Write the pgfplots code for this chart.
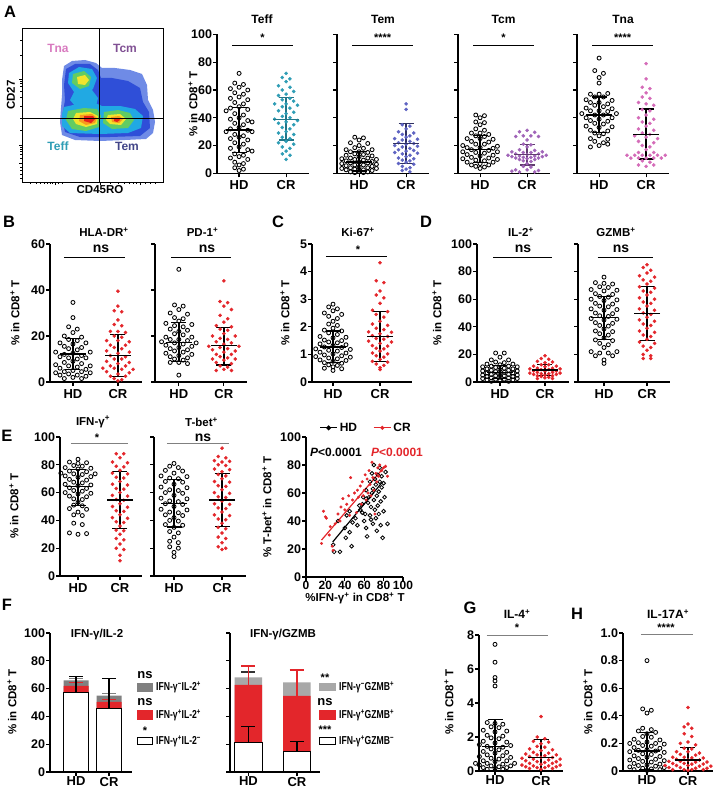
\documentclass[border=0pt]{standalone}
\usepackage{pgfplots}
\pgfplotsset{compat=1.18}
\usepackage{fontspec}
\setmainfont{Liberation Sans}
\definecolor{cteal}{HTML}{2E9DB5}
\definecolor{cperi}{HTML}{5E63C2}
\definecolor{cpurp}{HTML}{A064B8}
\definecolor{cpink}{HTML}{D46BB8}
\definecolor{cred}{HTML}{E3262B}
\definecolor{cgrayA}{HTML}{808080}
\definecolor{cgrayB}{HTML}{A8A8A8}
\definecolor{fl1}{HTML}{6F8BE6}
\definecolor{fl2}{HTML}{2F4FD8}
\definecolor{fl3}{HTML}{21A9E3}
\definecolor{fl4}{HTML}{62CC62}
\definecolor{fl5}{HTML}{F2E42C}
\definecolor{fl6}{HTML}{F79A1E}
\definecolor{fl7}{HTML}{E5221B}
\newcommand{\ft}[1]{\fontsize{#1}{#1}\selectfont}
\newcommand{\cde}{\% in CD8\textsuperscript{+} T}
\newcommand{\nar}[1]{\scalebox{0.75}[1]{#1}}
\pgfplotsset{
 prism/.style={scale only axis, clip=false, axis x line*=bottom, axis y line*=left,
   axis line style={line width=1.2pt,-}, every tick/.style={black,line width=1.2pt},
   tick align=outside, major tick length=4pt, enlargelimits=false,
   xtick={1,2}, xticklabels={HD,CR}, ymin=0,
   yticklabel style={font=\ft{12.5}, xshift=2.5pt}, xticklabel style={font=\ft{13}},
   /pgf/number format/assume math mode=true, anchor=south west},
 low/.style={xticklabel style={yshift=2.5pt}},
 hd/.style={only marks, mark=o, mark size=2pt, black, mark options={line width=0.85pt}, x filter/.expression={1+#1*x}},
 cr/.style 2 args={only marks, mark=*, mark size=1.6pt, color=#1, x filter/.expression={2+#2*x}},
 ebar/.style={color=#1, only marks, mark=-, mark size=13pt, mark options={line width=1.3pt},
   error bars/y dir=both, error bars/y explicit, error bars/error bar style={line width=1.3pt, color=#1},
   error bars/error mark options={rotate=90, mark size=7.5pt, line width=1.3pt, color=#1}},
 ebar/.default=black,
 sig/.style={line width=0.9pt, color=#1, mark=none},
 sig/.default=black,
 bbar/.style n args={4}{ybar, bar shift=0pt, bar width=#1, fill=#2, draw=#4,
   error bars/y dir=plus, error bars/y explicit,
   error bars/error bar style={line width=1.2pt, color=#3},
   error bars/error mark options={rotate=90, mark size=7pt, line width=1.2pt, color=#3}},
}
\begin{document}
\bfseries
\begin{tikzpicture}[x=1pt,y=1pt]
\useasboundingbox (0,0) rectangle (718,-789);
% ================= A : flow plot
\begin{axis}[scale only axis, at={(22pt,-182pt)}, anchor=south west, width=141pt, height=154pt,
  xmin=22,xmax=163,ymin=-182,ymax=-28, axis line style={line width=0.9pt},
  tick align=outside, xtick pos=bottom, ytick pos=left,
  xtick={55,100,140}, minor xtick={30,36,40,44,47,50,52,58,62,110,118,124,129,133,136,145,150,155},
  ytick={-163,-145,-79}, minor ytick={-178,-174,-170,-167,-158,-154,-151,-149,-147,-130,-118,-106,-97,-91,-86,-83,-81,-55,-40},
  xticklabels={}, yticklabels={}, major tick length=3pt, minor tick length=2pt,
  every tick/.style={black,line width=0.6pt}]
\addplot[fill=fl1, draw=none] coordinates {(64,-66)(72,-61)(85,-60)(96,-63)(102,-68)(115,-68)(130,-70)(142,-74)(147,-85)(148,-100)(153,-110)(155,-122)(153,-133)(146,-139)(125,-140)(100,-141)(75,-140)(62,-135)(60,-122)(61,-108)(62,-95)(62,-80)} -- cycle;
\addplot[fill=fl2, draw=none] coordinates {(66,-69)(75,-64)(90,-64)(98,-70)(101,-78)(112,-78)(128,-81)(140,-88)(143,-102)(149,-112)(150,-128)(140,-136)(110,-137)(80,-137)(65,-132)(62,-118)(65,-100)(64,-85)} -- cycle;
\addplot[fill=fl3, draw=none] coordinates {(69,-73)(79,-67)(92,-69)(97,-78)(93,-89)(84,-95)(74,-92)(68,-83)} -- cycle;
\addplot[fill=fl3, draw=none] coordinates {(74,-92)(92,-90)(98,-98)(96,-106)(75,-106)(70,-100)} -- cycle;
\addplot[fill=fl3, draw=none] coordinates {(64,-107)(78,-104)(95,-103)(102,-106)(120,-106)(135,-109)(143,-116)(141,-128)(128,-133)(100,-134)(70,-133)(62,-126)(62,-114)} -- cycle;
\addplot[fill=fl4, draw=none] coordinates {(73,-74)(84,-71)(91,-77)(89,-86)(80,-89)(72,-83)} -- cycle;
\addplot[fill=fl4, draw=none] coordinates {(68,-111)(84,-108)(97,-109)(101,-116)(99,-127)(86,-131)(72,-129)(66,-120)} -- cycle;
\addplot[fill=fl4, draw=none] coordinates {(104,-112)(118,-110)(130,-113)(134,-120)(128,-128)(112,-129)(103,-123)} -- cycle;
\addplot[fill=fl5, draw=none] coordinates {(77,-77)(85,-75)(89,-80)(85,-85)(78,-84)} -- cycle;
\addplot[fill=fl5, draw=none] coordinates {(76,-113)(90,-112)(98,-116)(97,-124)(86,-127)(76,-124)(73,-119)} -- cycle;
\addplot[fill=fl5, draw=none] coordinates {(108,-115)(120,-114)(126,-119)(121,-125)(110,-124)(106,-120)} -- cycle;
\addplot[fill=fl6, draw=none] coordinates {(80,-115)(92,-114)(97,-118)(95,-123)(86,-125)(79,-121)} -- cycle;
\addplot[fill=fl6, draw=none] coordinates {(111,-117)(119,-116)(123,-119)(119,-123)(112,-122)} -- cycle;
\addplot[fill=fl7, draw=none] coordinates {(84,-116)(93,-116)(95,-119)(91,-123)(84,-121)} -- cycle;
\addplot[fill=fl7, draw=none] coordinates {(114,-118)(119,-118)(120,-120)(117,-122)(114,-121)} -- cycle;
\addplot[black, line width=1pt] coordinates {(99,-28)(99,-182)};
\addplot[black, line width=1pt] coordinates {(22,-118)(163,-118)};
\end{axis}
% ================= A : Teff
\begin{axis}[prism, at={(217pt,-173.3pt)}, width=92pt, height=138.8pt, xmin=0.53, xmax=2.487, ymax=100, ytick={0,20,...,100}]
\addplot[hd=0.092] coordinates {(0,72)(-1,65)(1,64)(0,62)(-2,61)(2,60)(-1,58)(1,57)(0,55)(-2,54)(2,53)(-1,51)(1,50)(0,48)(-2,47)(2,46)(-3,45)(-1,43)(1,42)(0,40)(-2,39)(2,38)(3,37)(-1,36)(1,35)(0,33)(-2,32)(2,31)(-3,30)(3,30)(-1,28)(1,27)(0,26)(-2,25)(2,24)(-1,22)(1,21)(0,19)(-2,18)(2,17)(3,16)(-1,14)(1,13)(0,12)(-2,11)(2,10)(-1,8)(1,7)(0,6)(-1,4)(1,3)(0,2)};
\addplot[cr={cteal}{0.081}] coordinates {(0,72)(-1,69)(1,68)(0,66)(-2,63)(1,62)(-1,60)(2,59)(0,57)(-2,56)(1,54)(-1,53)(2,52)(0,50)(-3,50)(3,49)(-1,48)(1,47)(-2,45)(2,44)(0,43)(-1,41)(1,40)(-3,39)(3,38)(0,37)(-2,36)(2,35)(-1,33)(1,32)(0,30)(-2,29)(2,28)(-1,26)(1,25)(0,23)(-2,22)(2,21)(-1,19)(1,18)(0,16)(-1,14)(1,13)(0,10)};
\addplot[ebar] coordinates {(1,31.2) += (0,16.3) -= (0,16)};
\addplot[ebar=cteal!75!black] coordinates {(2,39) += (0,15.5) -= (0,15)};
\addplot[sig] coordinates {(0.85,92)(2.15,92)};
\end{axis}
% ================= A : Tem
\begin{axis}[prism, at={(337pt,-173.3pt)}, width=92pt, height=138.8pt, xmin=0.53, xmax=2.487, ymax=100, ytick={0,20,...,100}, yticklabels={}]
\addplot[hd=0.092] coordinates {(-1,26)(1,25.5)(0,24)(-2,22)(2,21.5)(0,20)(-1,18.5)(1,18)(-3,17)(3,17)(-2,15.5)(0,15.5)(2,15)(-1,14)(1,13.5)(-3,13)(3,12.5)(0,12)(-2,11)(2,11)(-4,10.5)(4,10)(-1,10)(1,9.5)(-3,9)(3,8.5)(0,8)(-2,7.5)(2,7.5)(-4,7)(4,6.5)(-1,6)(1,6)(-3,5.5)(3,5)(0,4.5)(-2,4)(2,4)(-4,3.5)(4,3.5)(-1,3)(1,2.5)(-3,2.5)(3,2)(0,1.5)(-2,1)(2,1)(-1,0.5)(1,0.5)};
\addplot[cr={cperi}{0.081}] coordinates {(0,50)(0,46)(-1,35)(1,34)(0,32)(-2,30)(2,29)(-1,28)(1,27)(0,26)(-3,25)(3,24.5)(-1,24)(1,23)(-2,22)(2,21.5)(0,21)(-3,20)(3,19.5)(-1,19)(1,18)(-2,17)(2,16.5)(0,16)(-3,15)(3,14.5)(-1,14)(1,13)(0,12)(-2,11)(2,10.5)(-1,9.5)(1,9)(0,8)(-2,7)(2,6.5)(-1,5)(1,4)(0,3)(-1,2)(1,1)};
\addplot[ebar] coordinates {(1,8.2) += (0,7.6) -= (0,6.5)};
\addplot[ebar=cperi!50!black] coordinates {(2,21.6) += (0,14.4) -= (0,14.6)};
\addplot[sig] coordinates {(0.85,92)(2.15,92)};
\end{axis}
% ================= A : Tcm
\begin{axis}[prism, at={(458pt,-173.3pt)}, width=92pt, height=138.8pt, xmin=0.53, xmax=2.487, ymax=100, ytick={0,20,...,100}, yticklabels={}]
\addplot[hd=0.092] coordinates {(-1,42)(1,41.5)(0,40)(-1,37)(1,36.5)(0,35)(-1,32)(1,31)(-2,29)(0,29)(2,28)(-1,27)(1,26.5)(-3,25)(0,25)(3,24.5)(-2,23)(2,22.5)(-1,21)(1,21)(-4,20)(4,19.5)(-3,18.5)(0,18.5)(3,18)(-2,17)(2,16.5)(-4,15.5)(4,15.5)(-1,15)(1,14.5)(-3,13.5)(3,13)(0,12.5)(-2,11.5)(2,11)(-4,10.5)(4,10)(-1,9.5)(1,9)(-3,8)(3,8)(0,7)(-2,6)(2,6)(-1,5)(1,4.5)(0,3.5)};
\addplot[cr={cpurp}{0.081}] coordinates {(0,31)(-2,30)(2,29.5)(-1,27)(1,27)(3,26.5)(-3,26.5)(0,24)(-1,21)(1,20.5)(0,19)(-2,17)(2,16.5)(-4,15.5)(4,15.5)(-1,15)(1,15)(-3,14)(3,14)(0,13.5)(-5,13)(5,13)(-2,12.5)(2,12.5)(-4,12)(4,12)(-1,11.5)(1,11.5)(-3,11)(3,11)(0,10.5)(-2,10)(2,10)(-1,9)(1,8.5)(0,7)(-1,5)(1,4.5)(-3,2.5)(0,2.5)(3,2)(-2,1)(2,1)(-4,1.5)};
\addplot[ebar] coordinates {(1,17) += (0,10) -= (0,9)};
\addplot[ebar=cpurp!60!black] coordinates {(2,13.5) += (0,7) -= (0,7.5)};
\addplot[sig] coordinates {(0.85,92)(2.15,92)};
\end{axis}
% ================= A : Tna
\begin{axis}[prism, at={(577pt,-173.3pt)}, width=92pt, height=138.8pt, xmin=0.53, xmax=2.487, ymax=100, ytick={0,20,...,100}, yticklabels={}]
\addplot[hd=0.092] coordinates {(0,83)(-1,74)(1,72)(0,69)(0,65)(-2,57)(0,57)(2,57.5)(-1,55)(1,55)(-3,53)(3,52.5)(-2,51)(0,51)(2,50)(-1,49)(1,48)(-3,47)(3,46.5)(-2,45)(0,45)(2,44.5)(-4,43)(4,43)(-1,42)(1,42)(-3,40)(3,40)(0,39)(-2,38)(2,37.5)(-1,36)(1,35.5)(-3,34)(3,33.5)(0,33)(-2,31)(2,30.5)(-1,29)(1,28.5)(0,27)(-2,25)(2,24.5)(-1,23)(1,22)(0,20)(-2,19)(2,21)};
\addplot[cr={cpink}{0.081}] coordinates {(0,79)(0,68)(-1,62)(1,61)(0,58)(-1,55)(1,54)(-2,51)(0,50)(2,49)(-1,46)(1,45)(0,42)(-2,40)(2,39)(-1,37)(1,36)(0,34)(-2,32)(2,31)(-1,29)(1,28)(-3,27)(0,26)(3,25)(-2,23)(2,22)(-1,20)(1,19)(0,17)(-2,15)(2,15)(-5,13)(-3,13)(-1,13)(1,13)(3,13)(5,13)(-4,11)(-2,11)(0,11)(2,11)(4,11)(-1,9)(1,8)(-2,6)(0,5)(2,6)};
\addplot[ebar] coordinates {(1,42) += (0,13) -= (0,12.5)};
\addplot[ebar] coordinates {(2,28) += (0,18.3) -= (0,17.8)};
\addplot[sig] coordinates {(0.85,92)(2.15,92)};
\end{axis}
% ================= B : HLA-DR
\begin{axis}[prism, at={(50pt,-382pt)}, width=92pt, height=138pt, xmin=0.49, xmax=2.534, ymax=60, ytick={0,20,40,60}]
\addplot[hd=0.096] coordinates {(0,34.6)(0,28)(-1,24)(1,23)(0,21.5)(-2,20)(2,19.5)(-1,18.5)(1,18)(-3,17)(3,17)(0,16.5)(-2,15.5)(2,15)(-1,14.5)(1,14)(-4,13)(4,13)(0,12.5)(-2,12)(2,11.5)(-3,11)(3,10.5)(-1,10.5)(1,10)(0,9)(-2,8.5)(2,8)(-4,7.5)(4,7)(-1,7)(1,6.5)(-3,6)(3,5.5)(0,5)(-2,4.5)(2,4.5)(-4,4)(4,4)(-1,3.5)(1,3)(-3,3)(3,2.5)(0,2)(-2,1.5)(2,1.5)};
\addplot[cr={cred}{0.084}] coordinates {(0,39.5)(0,33)(-1,31)(1,30.5)(0,27)(-1,25)(1,24.5)(-2,22)(0,22)(2,21.5)(-1,20)(1,19.5)(-3,18)(0,18)(3,17.5)(-2,16)(2,16)(-1,15)(1,14.5)(-3,13.5)(3,13)(0,12.5)(-2,11.5)(2,11)(-1,10)(1,10)(-3,9)(3,8.5)(0,8)(-2,7)(2,7)(-4,6)(-1,6)(1,5.5)(4,5.5)(-3,4.5)(3,4)(0,3.5)(-2,2.5)(2,2.5)(-1,1.5)(1,1)(0,0.5)};
\addplot[ebar] coordinates {(1,12.2) += (0,6.8) -= (0,6.8)};
\addplot[ebar] coordinates {(2,11.5) += (0,9.2) -= (0,9)};
\addplot[sig] coordinates {(0.8,54.3)(2.157,54.3)};
\end{axis}
% ================= B : PD-1
\begin{axis}[prism, at={(155pt,-382pt)}, width=92pt, height=138pt, xmin=0.47, xmax=2.514, ymax=60, ytick={0,20,40,60}, yticklabels={}]
\addplot[hd=0.096] coordinates {(0,49)(-1,33.5)(1,33)(0,31.5)(-2,30)(2,29.5)(-1,28)(1,27.5)(0,26.5)(-3,25.5)(3,25)(-1,24.5)(1,24)(-2,23)(2,22.5)(0,22)(-1,21)(1,20.5)(-3,19.5)(3,19.5)(-2,18.5)(0,18.5)(2,18)(-4,17.5)(4,17)(-1,17)(1,16.5)(-3,16)(3,15.5)(0,15)(-2,14.5)(2,14)(-1,13.5)(1,13)(-3,12.5)(3,12)(0,11.5)(-2,11)(2,10.5)(-1,10)(1,9.5)(-2,8.5)(0,8.5)(2,8)(0,3)};
\addplot[cr={cred}{0.084}] coordinates {(0,44)(-1,35)(1,34.5)(0,33)(2,31.5)(-1,29)(1,27.5)(0,26)(-2,24.5)(2,24)(-1,23)(1,22.5)(0,21)(-3,20)(3,20)(-1,19)(1,18.5)(-2,17.5)(2,17)(0,16.5)(-4,15.5)(4,15.5)(-1,15)(1,14.5)(-3,14)(3,13.5)(0,13)(-2,12)(2,12)(-1,11)(1,10.5)(-3,10)(3,10)(0,9.5)(-2,8.5)(2,8)(-1,7)(1,6.5)(0,5.5)(-2,5)(2,5)};
\addplot[ebar] coordinates {(1,17.2) += (0,8.6) -= (0,8.2)};
\addplot[ebar] coordinates {(2,15.8) += (0,8) -= (0,8.4)};
\addplot[sig] coordinates {(0.826,54.3)(2.16,54.3)};
\end{axis}
% ================= C : Ki-67
\begin{axis}[prism, at={(312pt,-382pt)}, width=100pt, height=138pt, xmin=0.553, xmax=2.68, ymax=5, ytick={0,1,...,5}]
\addplot[hd=0.092] coordinates {(0,2.82)(-1,2.72)(1,2.65)(0,2.58)(-2,2.5)(2,2.45)(-1,2.38)(1,2.3)(0,2.2)(-1,2.1)(1,2.05)(0,1.95)(-2,1.88)(2,1.85)(-1,1.78)(1,1.72)(-3,1.65)(3,1.62)(0,1.6)(-2,1.52)(2,1.5)(-1,1.45)(1,1.42)(-3,1.38)(3,1.35)(0,1.32)(-2,1.27)(2,1.25)(-4,1.2)(4,1.18)(-1,1.15)(1,1.12)(-3,1.08)(3,1.05)(0,1.02)(-2,0.98)(2,0.95)(-4,0.92)(4,0.9)(-1,0.87)(1,0.84)(-3,0.8)(3,0.78)(0,0.75)(-2,0.7)(2,0.68)(-1,0.62)(1,0.6)(0,0.55)(-2,0.5)(2,0.48)(0,0.42)};
\addplot[cr={cred}{0.081}] coordinates {(0,4.32)(-1,3.67)(1,3.6)(0,3.3)(-1,3.15)(1,3.05)(0,2.85)(-2,2.6)(2,2.55)(-1,2.45)(1,2.35)(0,2.2)(-2,2.1)(2,2.05)(-1,1.95)(1,1.9)(-3,1.82)(3,1.8)(0,1.75)(-2,1.68)(2,1.65)(-1,1.58)(1,1.55)(-3,1.48)(3,1.45)(0,1.4)(-2,1.32)(2,1.3)(-1,1.22)(1,1.2)(0,1.12)(-2,1.05)(2,1.02)(-1,0.95)(1,0.9)(0,0.82)(-2,0.75)(2,0.72)(-1,0.65)(1,0.6)(0,0.52)(0,0.45)};
\addplot[ebar] coordinates {(1,1.27) += (0,0.58) -= (0,0.57)};
\addplot[ebar] coordinates {(2,1.65) += (0,0.9) -= (0,0.9)};
\addplot[sig] coordinates {(0.85,4.55)(2.15,4.55)};
\end{axis}
% ================= D : IL-2
\begin{axis}[prism, at={(477pt,-382pt)}, width=92pt, height=138pt, xmin=0.49, xmax=2.534, ymax=100, ytick={0,20,...,100}]
\addplot[hd=0.096] coordinates {(-1,21)(1,21)(0,18)(-2,16)(2,16)(-1,14.5)(1,14)(-3,13)(3,13)(0,12.5)(-2,11.5)(2,11.5)(-4,11)(4,11)(-1,10.5)(1,10)(-3,9.5)(3,9.5)(0,9)(-2,8.5)(2,8.5)(-4,8)(4,8)(-1,7.5)(1,7)(-3,6.5)(3,6.5)(0,6)(-2,5.5)(2,5.5)(-4,5)(4,5)(-1,4.5)(1,4.5)(-3,4)(3,4)(0,3.5)(-2,3)(2,3)(-4,2.5)(4,2.5)(-1,2)(1,2)(-3,1.5)(3,1.5)(0,1)(-2,0.5)(2,0.5)};
\addplot[cr={cred}{0.084}] coordinates {(0,19)(-1,17)(1,16.5)(-2,15)(2,14.5)(0,14)(-1,12.5)(1,12.5)(-3,11.5)(3,11.5)(0,11)(-2,10)(2,10)(-4,9.5)(4,9.5)(-1,9)(1,9)(-3,8)(3,8)(0,8)(-2,7)(2,7)(-4,6.5)(4,6.5)(-1,6)(1,6)(-3,5.5)(3,5.5)(0,5)(-2,4.5)(2,4.5)(-1,4)(1,3.5)(0,3)(-2,2.5)(2,2.5)};
\addplot[ebar] coordinates {(1,7) += (0,5) -= (0,4.5)};
\addplot[ebar] coordinates {(2,8.7) += (0,3.8) -= (0,3.8)};
\addplot[sig] coordinates {(0.85,90.6)(2.15,90.6)};
\end{axis}
% ================= D : GZMB
\begin{axis}[prism, at={(578pt,-382pt)}, width=92pt, height=138pt, xmin=0.395, xmax=2.535, ymax=100, ytick={0,20,...,100}, yticklabels={}]
\addplot[hd=0.1] coordinates {(0,76)(-2,72)(0,71.5)(2,71)(-1,69)(1,68.5)(-3,67)(3,66.5)(0,66)(-2,64)(2,63.5)(-1,62)(1,61.5)(-3,60)(3,59.5)(0,59)(-2,57)(2,56.5)(-1,55)(1,54.5)(-3,53)(3,52.5)(0,52)(-2,50)(2,49.5)(-1,48)(1,47.5)(-3,46)(3,45.5)(0,45)(-2,43)(2,42.5)(-1,41)(1,40.5)(0,38.5)(-2,37)(2,36.5)(-1,35)(1,34)(0,32)(-2,30.5)(2,30)(-1,28)(1,27)(0,25)(-3,22)(-1,21)(1,21)(3,22)(-2,19)(2,19)(0,16)(0,13.5)};
\addplot[cr={cred}{0.088}] coordinates {(0,85)(-1,83)(1,81)(0,79)(-2,77)(2,76)(-1,74)(1,73)(0,71)(-2,69)(2,68)(-1,66)(1,65)(0,63)(-2,61)(2,60)(-1,58)(1,57)(0,55)(-2,53)(2,52)(-1,50)(1,49)(0,47)(-2,45)(2,44)(-1,42)(1,41)(0,39)(-2,37)(2,36)(-1,34)(1,33)(0,31)(-2,29)(2,28)(-1,26)(1,25)(0,23)(-1,20)(1,19)(-1,17)(1,17)};
\addplot[ebar] coordinates {(1,46.6) += (0,15.5) -= (0,16)};
\addplot[ebar] coordinates {(2,49.5) += (0,19.5) -= (0,19.5)};
\addplot[sig] coordinates {(0.85,90.6)(2.15,90.6)};
\end{axis}
% ================= E : IFN-g
\begin{axis}[prism, at={(60pt,-576pt)}, width=82pt, height=139pt, xmin=0.571, xmax=2.524, ymax=100, ytick={0,20,...,100}]
\addplot[hd=0.102] coordinates {(0,84)(-2,82)(0,81)(2,81.5)(-1,79.5)(1,79)(-3,78)(3,77.5)(0,77)(-2,75.5)(2,75)(-4,74)(-1,73.5)(1,73)(4,73.5)(-3,72)(3,71.5)(0,71)(-2,69.5)(2,69)(-1,67.5)(1,67)(-3,66)(3,65.5)(0,65)(-2,63.5)(2,63)(-1,61.5)(1,61)(-3,60)(3,59.5)(0,59)(-2,57.5)(2,57)(-1,55.5)(1,55)(0,53)(-1,51)(1,50.5)(-2,48.5)(2,48)(0,46)(-1,44)(1,43.5)(-1,38)(1,37)(-2,31)(0,30)(2,30.5)};
\addplot[cr={cred}{0.09}] coordinates {(-1,88)(1,88)(0,85)(-2,82)(2,81.5)(-1,79)(1,78.5)(0,76)(-2,74)(2,73.5)(-1,71)(1,70.5)(0,68)(-2,66)(2,65.5)(-1,63)(1,62.5)(0,60)(-2,58)(2,57.5)(-1,55)(1,54.5)(0,52)(-2,50)(2,49.5)(-1,47)(1,46.5)(0,44)(-2,42)(2,41.5)(-1,39)(1,38.5)(0,36)(-1,33)(1,32.5)(0,30)(-1,27)(1,26)(0,23)(-1,20)(1,19)(0,15)(0,11)};
\addplot[ebar] coordinates {(1,64.2) += (0,12.5) -= (0,13.5)};
\addplot[ebar] coordinates {(2,54.7) += (0,20.5) -= (0,20.7)};
\addplot[sig=gray] coordinates {(0.83,95.5)(2.2,95.5)};
\end{axis}
% ================= E : T-bet
\begin{axis}[prism, at={(154pt,-576pt)}, width=92pt, height=139pt, xmin=0.583, xmax=2.5, ymax=100, ytick={0,20,...,100}, yticklabels={}]
\addplot[hd=0.09] coordinates {(0,81)(-1,79)(1,78)(-2,76)(2,75.5)(0,74)(-3,72)(3,71.5)(-1,70.5)(1,70)(-2,68)(2,67.5)(0,66)(-3,64)(3,63.5)(-1,62)(1,61.5)(-2,60)(2,59.5)(0,58)(-3,56)(3,55.5)(-1,54)(1,53.5)(-2,52)(2,51.5)(0,50)(-3,48)(3,47.5)(-1,46)(1,45.5)(-2,44)(2,43.5)(0,42)(-1,40)(1,39.5)(-2,37)(2,36.5)(0,35)(-1,32)(1,31)(0,28)(-1,25)(1,24)(-1,21)(1,20)(0,17)(0,14)};
\addplot[cr={cred}{0.079}] coordinates {(0,92)(-1,86)(1,85)(-2,83)(2,82.5)(0,82)(-1,80)(1,79.5)(-2,77)(2,76.5)(0,75)(-1,73)(1,72)(0,70)(-2,68)(2,67.5)(-1,65)(1,64.5)(0,62)(-2,60)(2,59.5)(-1,57)(1,56.5)(0,54)(-2,52)(2,51.5)(-1,49)(1,48.5)(0,46)(-2,44)(2,43.5)(-1,41)(1,40.5)(0,38)(-1,35)(1,34)(0,31)(-1,28)(1,27)(0,24)(-1,21)(1,20)(0,19)};
\addplot[ebar] coordinates {(1,52.3) += (0,17) -= (0,17)};
\addplot[ebar] coordinates {(2,54.7) += (0,19) -= (0,19)};
\addplot[sig=gray] coordinates {(0.85,95.5)(2.15,95.5)};
\end{axis}
% ================= E : correlation
\begin{axis}[prism, at={(306pt,-577pt)}, width=97pt, height=140pt, xmin=0, xmax=100, ymax=100,
  xtick={0,20,...,100}, xticklabels={0,20,40,60,80,100}, ytick={0,20,...,100},
  xticklabel style={font=\ft{12}, yshift=3.5pt},
  legend style={at={(0.62,1.0)}, anchor=south, draw=none, fill=none, legend columns=2,
    font=\ft{12}, /tikz/every even column/.append style={column sep=14pt}}]
\addlegendimage{black, line width=1.2pt, mark=*, mark size=1.8pt}
\addlegendentry{HD}
\addlegendimage{cred, line width=1.2pt, mark=*, mark size=1.3pt}
\addlegendentry{CR}
\addplot[only marks, mark=o, mark size=1.9pt, mark options={line width=0.8pt}, black, forget plot] coordinates {(28,23)(29,18)(35,18)(33,40)(40,35)(41,28)(42,44)(45,47)(45,32)(47,22)(48,39)(51,42)(53,37)(55,51)(56,48)(58,52)(59,57)(60,40)(61,45)(62,62)(62,35)(63,29)(64,53)(65,57)(66,68)(66,44)(67,50)(68,60)(68,74)(69,38)(69,63)(70,80)(70,55)(71,48)(71,70)(72,66)(72,42)(73,58)(73,33)(74,73)(74,51)(75,61)(75,45)(76,68)(76,78)(77,54)(77,37)(78,64)(78,72)(79,28)(80,67)(80,47)(81,57)(82,75)(84,38)(62,56)(67,41)(58,46)};
\addplot[only marks, mark=*, mark size=1.3pt, cred, forget plot] coordinates {(16,24)(18,47)(20,43)(21,42)(24,30)(25,36)(27,22)(28,19)(30,38)(33,45)(35,40)(36,50)(38,56)(40,48)(42,52)(44,58)(45,44)(46,71)(48,55)(50,60)(52,46)(53,62)(54,57)(56,65)(57,52)(58,68)(59,58)(60,62)(61,73)(62,55)(63,70)(64,60)(65,76)(66,66)(67,58)(68,82)(69,71)(70,62)(71,45)(72,74)(73,68)(74,78)(75,72)(76,80)(78,76)(80,78)(82,79)(84,72)};
\addplot[black, line width=1.2pt, forget plot] coordinates {(27.5,25)(79,68)};
\addplot[cred, line width=1.2pt, forget plot] coordinates {(16,26.4)(82.5,80)};
\end{axis}
% ================= F : IFN-g/IL-2
\begin{axis}[prism, low, at={(50pt,-772pt)}, width=82pt, height=139pt, xmin=0.212, xmax=2.697, ymax=100, ytick={0,20,...,100}]
\addplot[bbar={25pt}{cgrayA}{cgrayA}{none}] coordinates {(1,66) +- (0,1.5) (2,55) +- (0,1.5)};
\addplot[bbar={25pt}{cred}{cred}{none}] coordinates {(1,62) +- (0,2.5) (2,50.5) +- (0,1.5)};
\addplot[bbar={25pt}{white}{black}{black}, line width=1.3pt] coordinates {(1,57) +- (0,11.5) (2,45.5) +- (0,21.5)};
\end{axis}
% ================= F : IFN-g/GZMB
\begin{axis}[prism, low, at={(230pt,-772pt)}, width=90pt, height=139pt, xmin=0.619, xmax=2.475, ymax=100, ytick={0,20,...,100}, yticklabels={}]
\addplot[bbar={27.5pt}{cgrayB}{black!80}{none}] coordinates {(1,68) +- (0,4) (2,64.5) +- (0,9.5)};
\addplot[bbar={27.5pt}{cred}{cred}{none}] coordinates {(1,62.6) +- (0,13.7) (2,54.7) +- (0,18.7)};
\addplot[bbar={27.5pt}{white}{black}{black}, line width=1.3pt] coordinates {(1,21) +- (0,11.6) (2,15) +- (0,6.8)};
\end{axis}
% ================= G : IL-4
\begin{axis}[prism, low, at={(479pt,-771pt)}, width=84pt, height=136pt, xmin=0.652, xmax=2.478, ymax=8, ytick={0,2,4,6,8}]
\addplot[hd=0.085] coordinates {(0,7.45)(0,6.4)(0,5.5)(0,5.3)(0,5.0)(-2,2.85)(0,2.8)(2,2.75)(-1,2.6)(1,2.55)(-3,2.4)(3,2.35)(0,2.3)(-2,2.1)(2,2.05)(-1,1.95)(1,1.9)(-3,1.75)(3,1.7)(0,1.65)(-4,1.55)(4,1.5)(-2,1.45)(2,1.4)(-1,1.3)(1,1.25)(-3,1.15)(3,1.1)(0,1.05)(-2,0.95)(2,0.9)(-4,0.85)(4,0.8)(-1,0.75)(1,0.7)(-3,0.6)(3,0.6)(0,0.55)(-5,0.45)(5,0.45)(-2,0.45)(2,0.4)(-4,0.35)(4,0.3)(-1,0.3)(1,0.25)(-3,0.2)(3,0.2)(0,0.15)(-2,0.1)(2,0.1)};
\addplot[cr={cred}{0.083}] coordinates {(0,3.2)(-1,2.0)(1,1.9)(-2,1.75)(2,1.7)(0,1.6)(-1,1.45)(1,1.4)(-3,1.3)(3,1.25)(0,1.2)(-2,1.1)(2,1.05)(-4,1.0)(4,0.95)(-1,0.95)(1,0.9)(-3,0.85)(3,0.8)(0,0.8)(-5,0.75)(5,0.7)(-2,0.7)(2,0.65)(-4,0.6)(4,0.55)(-1,0.55)(1,0.5)(-3,0.45)(3,0.45)(0,0.4)(-5,0.35)(5,0.35)(-2,0.3)(2,0.3)(-4,0.25)(4,0.25)(-1,0.2)(1,0.2)(-3,0.15)(3,0.15)(0,0.1)};
\addplot[ebar] coordinates {(1,1.43) += (0,1.6) -= (0,1.4)};
\addplot[ebar] coordinates {(2,0.8) += (0,1.06) -= (0,0.75)};
\addplot[sig=gray] coordinates {(0.82,8)(2.15,8)};
\end{axis}
% ================= H : IL-17A
\begin{axis}[prism, low, at={(623pt,-771pt)}, width=90pt, height=138pt, xmin=0.415, xmax=2.61, ymax=1, ytick={0,0.2,...,1.0}, yticklabels={0,0.2,0.4,0.6,0.8,1.0}]
\addplot[hd=0.105] coordinates {(0,0.8)(-1,0.45)(1,0.44)(0,0.42)(-1,0.31)(1,0.3)(-2,0.29)(2,0.28)(0,0.27)(-1,0.25)(1,0.245)(-3,0.23)(3,0.225)(0,0.21)(-2,0.205)(2,0.2)(-4,0.2)(4,0.195)(-1,0.185)(1,0.18)(-3,0.17)(3,0.165)(0,0.155)(-2,0.15)(2,0.145)(-4,0.14)(4,0.135)(-1,0.125)(1,0.12)(-3,0.11)(3,0.105)(0,0.1)(-2,0.09)(2,0.085)(-4,0.08)(4,0.075)(-1,0.07)(1,0.065)(-3,0.055)(3,0.05)(0,0.045)(-2,0.04)(2,0.035)(-4,0.03)(4,0.025)(-1,0.02)(1,0.015)(-3,0.01)(3,0.01)(0,0.005)};
\addplot[cr={cred}{0.093}] coordinates {(0,0.46)(0,0.34)(-1,0.32)(1,0.31)(-1,0.27)(1,0.25)(0,0.21)(-2,0.2)(2,0.19)(-1,0.165)(1,0.16)(-3,0.14)(0,0.14)(3,0.13)(-2,0.12)(2,0.115)(-4,0.1)(-1,0.1)(1,0.095)(4,0.095)(-3,0.085)(3,0.08)(0,0.08)(-5,0.07)(-2,0.07)(2,0.065)(5,0.065)(-4,0.055)(-1,0.055)(1,0.05)(4,0.05)(-6,0.04)(-3,0.04)(0,0.04)(3,0.035)(6,0.035)(-5,0.025)(-2,0.025)(2,0.02)(5,0.02)(-4,0.01)(-1,0.01)(1,0.01)(4,0.01)(0,0.005)};
\addplot[ebar] coordinates {(1,0.145) += (0,0.135) -= (0,0.135)};
\addplot[ebar] coordinates {(2,0.08) += (0,0.09) -= (0,0.075)};
\addplot[sig=gray] coordinates {(0.85,0.99)(2.12,0.99)};
\end{axis}
% ================= text
\begin{scope}[every node/.style={inner sep=0pt}]
\node[font=\ft{16.5}] at (10,-12) {A};
\node[font=\ft{16.5}] at (9,-222) {B};
\node[font=\ft{16.5}] at (278,-222) {C};
\node[font=\ft{16.5}] at (426,-222) {D};
\node[font=\ft{16.5}] at (7,-436) {E};
\node[font=\ft{16.5}] at (7,-605) {F};
\node[font=\ft{16.5}] at (470,-608) {G};
\node[font=\ft{16.5}] at (577,-614) {H};
\node[font=\ft{12}, text=cpink!90!white] at (58,-48) {Tna};
\node[font=\ft{12}, text=cpurp!80!black] at (125,-48) {Tcm};
\node[font=\ft{12}, text=cteal] at (58,-146) {Teff};
\node[font=\ft{12}, text=cperi!70!black] at (127,-146) {Tem};
\node[font=\ft{11.5}, rotate=90] at (11,-95) {CD27};
\node[font=\ft{11.5}] at (100,-190) {CD45RO};
\node[font=\ft{12}] at (262,-19) {Teff};
\node[font=\ft{12}] at (383,-19) {Tem};
\node[font=\ft{12}] at (503.6,-19) {Tcm};
\node[font=\ft{12}] at (623,-19) {Tna};
\node[font=\ft{11}] at (262.6,-38) {*};
\node[font=\ft{11}] at (382.6,-38) {****};
\node[font=\ft{11}] at (503.6,-38) {*};
\node[font=\ft{11}] at (622.6,-38) {****};
\node[font=\ft{11.5}, rotate=90] at (193,-104) {\cde};
\node[font=\ft{11.5}] at (104,-232) {HLA-DR\textsuperscript{+}};
\node[font=\ft{11.5}] at (202.5,-232) {PD-1\textsuperscript{+}};
\node[font=\ft{11.5}] at (358,-232) {Ki-67\textsuperscript{+}};
\node[font=\ft{11.5}] at (521,-232) {IL-2\textsuperscript{+}};
\node[font=\ft{11.5}] at (616,-232) {GZMB\textsuperscript{+}};
\node[font=\ft{14}] at (101,-248.5) {ns};
\node[font=\ft{14}] at (207,-248.5) {ns};
\node[font=\ft{11}] at (358,-250) {*};
\node[font=\ft{14}] at (523,-248.5) {ns};
\node[font=\ft{14}] at (621,-248.5) {ns};
\node[font=\ft{11.5}, rotate=90] at (15,-313) {\cde};
\node[font=\ft{11.5}, rotate=90] at (285,-313) {\cde};
\node[font=\ft{11.5}, rotate=90] at (437,-313) {\cde};
\node[font=\ft{11.5}] at (93,-422) {IFN-γ\textsuperscript{+}};
\node[font=\ft{11.5}] at (201.5,-422) {T-bet\textsuperscript{+}};
\node[font=\ft{11}] at (97,-438) {*};
\node[font=\ft{14}] at (203,-437.5) {ns};
\node[font=\ft{11.5}, rotate=90] at (14,-506) {\cde};
\node[font=\ft{11.5}, rotate=90] at (267,-507) {\% T-bet\textsuperscript{+} in CD8\textsuperscript{+} T};
\node[font=\ft{12}] at (336,-452) {\textit{P}<0.0001};
\node[font=\ft{12}, text=cred] at (397,-452) {\textit{P}<0.0001};
\node[font=\ft{11.5}] at (355,-598.5) {\%IFN-γ\textsuperscript{+} in CD8\textsuperscript{+} T};
\node[font=\ft{11.5}] at (97,-635) {IFN-γ/IL-2};
\node[font=\ft{11.5}] at (283,-635) {IFN-γ/GZMB};
\node[font=\ft{11.5}, rotate=90] at (12,-702) {\cde};
\node[font=\ft{13}] at (145,-675) {ns};
\fill[cgrayA] (137,-683) rectangle (153,-692);
\node[font=\ft{11.5}, anchor=west] at (156,-687.5) {\nar{IFN-γ\textsuperscript{−}IL-2\textsuperscript{+}}};
\node[font=\ft{13}] at (145,-702) {ns};
\fill[cred] (137,-710) rectangle (153,-720);
\node[font=\ft{11.5}, anchor=west] at (156,-715) {\nar{IFN-γ\textsuperscript{+}IL-2\textsuperscript{+}}};
\node[font=\ft{11}] at (145,-731) {*};
\draw[black, line width=1.2pt, fill=white] (137.6,-737.6) rectangle (152.4,-744.4);
\node[font=\ft{11.5}, anchor=west] at (156,-741) {\nar{IFN-γ\textsuperscript{+}IL-2\textsuperscript{−}}};
\node[font=\ft{11}] at (325,-678) {**};
\fill[cgrayB] (319,-683) rectangle (336,-691);
\node[font=\ft{11.5}, anchor=west] at (339,-687) {\nar{IFN-γ\textsuperscript{−}GZMB\textsuperscript{+}}};
\node[font=\ft{13}] at (325,-702) {ns};
\fill[cred] (319,-710) rectangle (336,-720);
\node[font=\ft{11.5}, anchor=west] at (339,-715) {\nar{IFN-γ\textsuperscript{+}GZMB\textsuperscript{+}}};
\node[font=\ft{11}] at (325,-730) {***};
\draw[black, line width=1.2pt, fill=white] (319.6,-737.6) rectangle (335.4,-744.4);
\node[font=\ft{11.5}, anchor=west] at (339,-741) {\nar{IFN-γ\textsuperscript{+}GZMB\textsuperscript{−}}};
\node[font=\ft{12}] at (517,-614) {IL-4\textsuperscript{+}};
\node[font=\ft{11}] at (517,-628) {*};
\node[font=\ft{11.5}, rotate=90] at (449,-702) {\cde};
\node[font=\ft{12}] at (668,-614) {IL-17A\textsuperscript{+}};
\node[font=\ft{11}] at (666,-628) {****};
\node[font=\ft{11.5}, rotate=90] at (588,-702) {\cde};
\end{scope}
\end{tikzpicture}
\end{document}
